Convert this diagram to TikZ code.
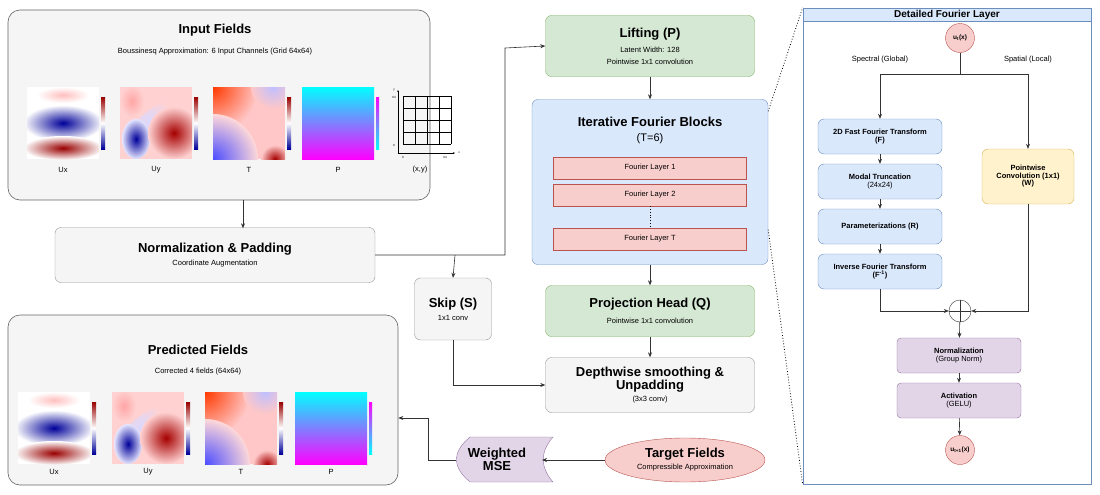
\documentclass[tikz,border=0pt]{standalone}
\usepackage{fontspec}
\setmainfont{Liberation Sans}
\usetikzlibrary{arrows.meta,shapes.geometric}

\definecolor{boxgray}{HTML}{F5F5F5}
\definecolor{linegray}{HTML}{666666}
\definecolor{greenfill}{HTML}{D5E8D4}
\definecolor{greenline}{HTML}{82B366}
\definecolor{bluefill}{HTML}{DAE8FC}
\definecolor{blueline}{HTML}{6C8EBF}
\definecolor{redfill}{HTML}{F8CECC}
\definecolor{redline}{HTML}{B85450}
\definecolor{yellowfill}{HTML}{FFF2CC}
\definecolor{yellowline}{HTML}{D6B656}
\definecolor{purplefill}{HTML}{E1D5E7}
\definecolor{purpleline}{HTML}{9673A6}
\definecolor{arrowgray}{HTML}{333333}

\newcommand{\fsz}[1]{\fontsize{#1}{#1}\selectfont}

\tikzset{
  cbar/.style={top color=red!60!black, bottom color=blue!60!black, middle color=white},
  uxmap/.pic={
    \begin{scope}
      \clip (0,0) rectangle (72,72);
      \fill[white] (0,0) rectangle (72,72);
      \shade[inner color=red!25, outer color=white] (36,8) ellipse (26 and 8);
      \shade[inner color=blue!60!black, outer color=white] (36,36) ellipse (40 and 18);
      \shade[inner color=red!60!black, outer color=white] (36,61) ellipse (40 and 12);
    \end{scope}
    \shade[cbar] (74,10) rectangle (78,62);
  },
  uymap/.pic={
    \begin{scope}
      \clip (0,0) rectangle (72,72);
      \fill[red!18] (0,0) rectangle (72,72);
      \shade[inner color=red!35, outer color=red!18] (12,14) ellipse (12 and 16);
      \shade[inner color=blue!15, outer color=red!18, rotate around={40:(30,35)}] (30,35) ellipse (30 and 10);
      \shade[inner color=blue!60!black, outer color=blue!10] (16,52) ellipse (14 and 20);
      \shade[inner color=red!65!black, outer color=red!18] (54,46) ellipse (26 and 26);
    \end{scope}
    \shade[cbar] (74,10) rectangle (78,62);
  },
  tmap/.pic={
    \begin{scope}
      \clip (0,0) rectangle (72,72);
      \fill[red!22] (0,0) rectangle (72,72);
      \shade[inner color=red!55!orange, outer color=red!22] (0,0) circle (45);
      \shade[inner color=blue!25, outer color=red!22] (60,0) circle (22);
      \shade[inner color=blue!70, outer color=red!15] (0,72) circle (45);
      \shade[inner color=red!65!black, outer color=red!22] (62,72) circle (14);
    \end{scope}
    \shade[cbar] (74,10) rectangle (78,62);
  },
  pmap/.pic={
    \shade[top color=cyan, bottom color=magenta] (0,0) rectangle (72,72);
    \shade[top color=magenta, bottom color=cyan] (74,10) rectangle (77,62);
  },
}

\begin{document}
\begin{tikzpicture}[x=1pt, y=-1pt, >={Stealth[length=5pt,width=4pt]},
    panel/.style = {draw=linegray, fill=boxgray, rounded corners=12pt, line width=0.6pt},
    gray/.style = {draw=linegray!70, fill=boxgray, rounded corners=6pt, align=center},
    green/.style = {draw=greenline, fill=greenfill, rounded corners=6pt, align=center},
    blue/.style = {draw=blueline, fill=bluefill, rounded corners=6pt, align=center},
    red/.style = {draw=redline, fill=redfill, align=center},
    yellow/.style = {draw=yellowline, fill=yellowfill, rounded corners=6pt, align=center},
    purple/.style = {draw=purpleline, fill=purplefill, rounded corners=4pt, align=center},
    flow/.style = {draw=arrowgray, line width=0.6pt},
    title/.style = {font=\fsz{13}\bfseries},
    small/.style = {font=\fsz{7.5}},
    tiny/.style = {font=\fsz{7.5}\bfseries, align=center}]
\useasboundingbox (0,0) rectangle (1100,495);

% input fields
\node[panel, minimum width=422, minimum height=190] (input) at (219,105) {};
\node[title] at (215,30) {Input Fields};
\node[small] at (215,52) {Boussinesq Approximation: 6 Input Channels (Grid 64x64)};
\pic at (27,87) {uxmap};
\pic at (120,87) {uymap};
\pic at (213,87) {tmap};
\pic at (302,87) {pmap};
\draw[thin, ->, >={Stealth[length=2pt]}] (398,153) -- (398,90);
\draw[thin, ->, >={Stealth[length=2pt]}] (398,153) -- (455,153);
\foreach \k in {0,...,4} {
  \draw[thin] (403+12*\k,96) -- (403+12*\k,144);
  \draw[thin] (403,96+12*\k) -- (451,96+12*\k);
}
\node[font=\fsz{3}] at (394,90) {y};
\node[font=\fsz{3}] at (394,97) {64};
\node[font=\fsz{3}] at (394,145) {0};
\node[font=\fsz{3}] at (403,157) {0};
\node[font=\fsz{3}] at (445,157) {64};
\node[font=\fsz{3}] at (459,153) {x};
\foreach \lbl/\xx in {Ux/63, Uy/156, T/249, P/338, {(x,y)}/420}
  \node[small] at (\xx,170) {\lbl};

\node[gray, minimum width=320, minimum height=55] (norm) at (215,255)
  {{\fsz{13}\bfseries Normalization \& Padding}\\[1pt]{\fsz{7.5}Coordinate Augmentation}};

% predicted fields
\node[panel, minimum width=390, minimum height=170] (pred) at (203,400) {};
\node[title] at (198,350) {Predicted Fields};
\node[small] at (198,372) {Corrected 4 fields (64x64)};
\pic at (18,392) {uxmap};
\pic at (112,392) {uymap};
\pic at (205,392) {tmap};
\pic at (295,392) {pmap};
\foreach \lbl/\xx in {Ux/54, Uy/148, T/241, P/331}
  \node[small] at (\xx,472) {\lbl};

% main column
\node[green, minimum width=209, minimum height=61] (lift) at (650,46)
  {{\fsz{13}\bfseries Lifting (P)}\\[3pt]{\fsz{7.5}Latent Width: 128}\\{\fsz{7.5}Pointwise 1x1 convolution}};
\node[blue, minimum width=236, minimum height=165] (iter) at (650,182) {};
\node[title, align=center] at (650,130) {Iterative Fourier Blocks\\[2pt]{\fsz{11}\mdseries (T=6)}};
\node[red, minimum width=193, minimum height=22, small] (layer1) at (650,168) {Fourier Layer 1};
\node[red, minimum width=193, minimum height=22, small] (layer2) at (650,195) {Fourier Layer 2};
\node[red, minimum width=193, minimum height=22, small] (layerT) at (650,239) {Fourier Layer T};
\draw[dotted, thick] (layer2) -- (layerT);
\node[green, minimum width=209, minimum height=51] (proj) at (650,311)
  {{\fsz{13}\bfseries Projection Head (Q)}\\[4pt]{\fsz{7.5}Pointwise 1x1 convolution}};
\node[gray, minimum width=209, minimum height=55] (depth) at (650,385)
  {{\fsz{13}\bfseries Depthwise smoothing \&}\\{\fsz{13}\bfseries Unpadding}\\{\fsz{7.5}(3x3 conv)}};
\node[gray, minimum width=77, minimum height=62] (skip) at (453,309)
  {{\fsz{13}\bfseries Skip (S)}\\[1pt]{\fsz{7.5}1x1 conv}};

% loss
\draw[draw=purpleline, fill=purplefill] (470,437) -- (553,437) .. controls (540,452) and (540,467) .. (553,482)
  -- (470,482) .. controls (452,467) and (452,452) .. (470,437);
\node[font=\fsz{13}\bfseries, align=center] (mse) at (497,459.5) {Weighted\\MSE};
\node[red, ellipse, minimum width=160, minimum height=44] (target) at (685,460)
  {{\fsz{13}\bfseries Target Fields}\\{\fsz{7.5}Compressible Approximation}};
\coordinate (mseright) at (542,460);
\coordinate (mseleft) at (456,460);

% connectors
\draw[flow, ->] (input.south) ++(24,0) -- ++(0,28);
\draw[flow, ->] (norm.east) -| (505,48) -- (lift.west);
\draw[flow, ->] (455,255) -- (skip.north);
\draw[flow, ->] (lift) -- (iter);
\draw[flow, ->] (iter) -- (proj);
\draw[flow, ->] (proj) -- (depth);
\draw[flow, ->] (skip.south) |- (depth.west);
\draw[flow, ->] (target) -- (mseright);
\draw[flow, ->] (mseleft) -- (428,460) |- (pred.east |- 0,418);

% detailed fourier layer
\node[draw=blueline, line width=0.7pt, minimum width=288, minimum height=476] (detail) at (947,246) {};
\node[draw=blueline, fill=bluefill, minimum width=288, minimum height=13, inner sep=0pt,
  font=\fsz{10}\bfseries] (dtitle) at (947,14.5) {Detailed Fourier Layer};
\draw[dotted, thick] (iter.north east) ++(0,12) -- (detail.north west);
\draw[dotted, thick] (iter.south east) ++(0,-35) -- (detail.south west);

\node[red, circle, minimum size=29, inner sep=0pt, font=\fsz{6.5}\bfseries] (ut) at (960,38) {u\textsubscript{t}(x)};
\node[small, font=\fsz{7.5}] at (880,60) {Spectral (Global)};
\node[small, font=\fsz{7.5}] at (1028,60) {Spatial (Local)};
\node[blue, minimum width=124, minimum height=35, tiny] (fft) at (880,136.5) {2D Fast Fourier Transform\\(F)};
\node[blue, minimum width=124, minimum height=35, tiny] (trunc) at (880,181.5) {Modal Truncation\\{\mdseries (24x24)}};
\node[blue, minimum width=124, minimum height=35, tiny] (param) at (880,226.5) {Parameterizations (R)};
\node[blue, minimum width=124, minimum height=35, tiny] (ifft) at (880,271.5) {Inverse Fourier Transform\\[1pt](F\textsuperscript{-1})};
\node[yellow, minimum width=92, minimum height=55, tiny] (pconv) at (1028,176.5) {Pointwise\\Convolution (1x1)\\(W)};
\node[draw=arrowgray, circle, minimum size=22, inner sep=0pt] (plus) at (960,311) {};
\draw[arrowgray] (plus.north) -- (plus.south) (plus.west) -- (plus.east);
\node[purple, minimum width=124, minimum height=35, tiny] (gnorm) at (959,355.5) {Normalization\\{\mdseries (Group Norm)}};
\node[purple, minimum width=124, minimum height=35, tiny] (act) at (959,400.5) {Activation\\{\mdseries (GELU)}};
\node[red, circle, minimum size=29, inner sep=0pt, font=\fsz{6.5}\bfseries] (unext) at (960,450) {u\textsubscript{t+1}(x)};

\draw[flow, ->] (ut.south) -- (960,74) -| (fft.north);
\draw[flow, ->] (960,74) -| (pconv.north);
\draw[flow, ->] (fft) -- (trunc);
\draw[flow, ->] (trunc) -- (param);
\draw[flow, ->] (param) -- (ifft);
\draw[flow, ->] (ifft.south) |- (plus.west);
\draw[flow, ->] (pconv.south) |- (plus.east);
\draw[flow, ->] (plus) -- (gnorm);
\draw[flow, ->] (gnorm) -- (act);
\draw[flow, ->] (act) -- (unext);
\end{tikzpicture}
\end{document}
